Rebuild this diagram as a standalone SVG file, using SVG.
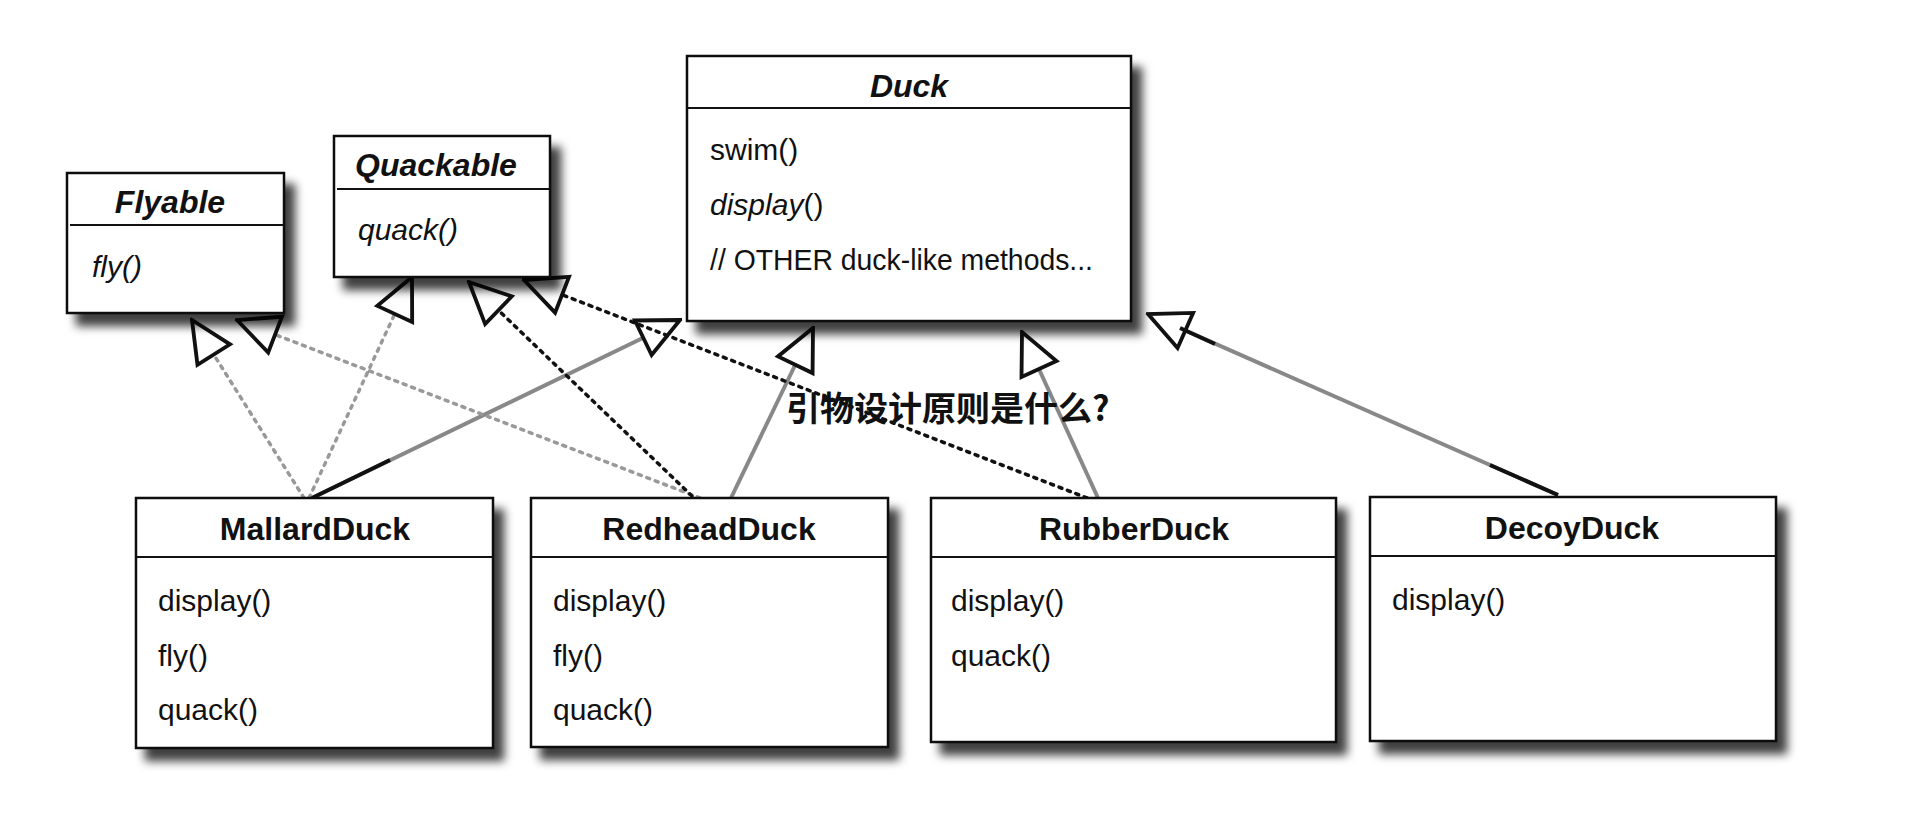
<svg xmlns="http://www.w3.org/2000/svg" width="1920" height="821" viewBox="0 0 1920 821">
<style>
.box{fill:#fff;stroke:#111;stroke-width:2.5}
.div{stroke:#111;stroke-width:2}
.t{font-family:"Liberation Sans",Arial,sans-serif;font-size:30px;fill:#111}
.b{font-weight:bold;font-size:32px}
.i{font-style:italic}
.c{text-anchor:middle}
.solid{stroke:#888;stroke-width:4;fill:none}
.gdot{stroke:#999;stroke-width:3.5;stroke-dasharray:3 6;fill:none;stroke-linecap:round}
.kdot{stroke:#111;stroke-width:3.5;stroke-dasharray:3 6;fill:none;stroke-linecap:round}
</style>
<defs>
<filter id="sh" x="-10%" y="-10%" width="130%" height="140%"><feDropShadow dx="10" dy="12" stdDeviation="5" flood-color="#000" flood-opacity="0.75"/></filter>
<marker id="tri" viewBox="0 0 40 40" refX="38" refY="20" markerWidth="48" markerHeight="48" markerUnits="userSpaceOnUse" orient="auto">
<path d="M38 20 L4 4 L4 36 Z" fill="#fff" stroke="#111" stroke-width="3.2" stroke-linejoin="miter"/>
</marker>
</defs>
<rect width="1920" height="821" fill="#fff"/>
<g id="connectors">
<path class="gdot" d="M304 498 L192 320" marker-end="url(#tri)"/>
<path class="gdot" d="M309 498 L412 277" marker-end="url(#tri)"/>
<path class="solid" d="M312 498 L680 320" marker-end="url(#tri)"/>
<path d="M312 498 L390 460" stroke="#111" stroke-width="4"/>
<path class="gdot" d="M700 498 L237 320" marker-end="url(#tri)"/>
<path class="kdot" d="M692 496 L469 282" marker-end="url(#tri)"/>
<path class="solid" d="M731 498 L813 328" marker-end="url(#tri)"/>
<path class="kdot" d="M1087 498 L524 280" marker-end="url(#tri)"/>
<path class="solid" d="M1098 498 L1022 332" marker-end="url(#tri)"/>
<path class="solid" d="M1558 495 L1148 314" marker-end="url(#tri)"/>
<path d="M1558 495 L1490 465 M1215 344 L1180 328" stroke="#111" stroke-width="4"/>
</g>
<g id="duck">
<rect class="box" x="687" y="56" width="444" height="265" filter="url(#sh)"/>
<line class="div" x1="687" y1="108" x2="1131" y2="108"/>
<text class="t b i c" x="909" y="97">Duck</text>
<text class="t" x="710" y="160">swim()</text>
<text class="t" x="710" y="215"><tspan class="i">display</tspan>()</text>
<text class="t" x="710" y="270" textLength="383" lengthAdjust="spacingAndGlyphs">// OTHER duck-like methods...</text>
</g>
<g id="flyable">
<rect class="box" x="67" y="173" width="217" height="140" filter="url(#sh)"/>
<line class="div" x1="70" y1="225" x2="284" y2="225"/>
<text class="t b i c" x="170" y="213">Flyable</text>
<text class="t i" x="92" y="277">fly()</text>
</g>
<g id="quackable">
<rect class="box" x="334" y="136" width="216" height="141" filter="url(#sh)"/>
<line class="div" x1="337" y1="189" x2="550" y2="189"/>
<text class="t b i" x="355" y="176">Quackable</text>
<text class="t i" x="358" y="240">quack()</text>
</g>
<g id="mallard">
<rect class="box" x="136" y="498" width="357" height="250" filter="url(#sh)"/>
<line class="div" x1="136" y1="557" x2="493" y2="557"/>
<text class="t b c" x="315" y="540">MallardDuck</text>
<text class="t" x="158" y="611">display()</text>
<text class="t" x="158" y="666">fly()</text>
<text class="t" x="158" y="720">quack()</text>
</g>
<g id="redhead">
<rect class="box" x="531" y="498" width="357" height="249" filter="url(#sh)"/>
<line class="div" x1="531" y1="557" x2="888" y2="557"/>
<text class="t b c" x="709" y="540">RedheadDuck</text>
<text class="t" x="553" y="611">display()</text>
<text class="t" x="553" y="666">fly()</text>
<text class="t" x="553" y="720">quack()</text>
</g>
<g id="rubber">
<rect class="box" x="931" y="498" width="405" height="244" filter="url(#sh)"/>
<line class="div" x1="931" y1="557" x2="1336" y2="557"/>
<text class="t b c" x="1134" y="540">RubberDuck</text>
<text class="t" x="951" y="611">display()</text>
<text class="t" x="951" y="666">quack()</text>
</g>
<g id="decoy">
<rect class="box" x="1370" y="497" width="406" height="244" filter="url(#sh)"/>
<line class="div" x1="1370" y1="556" x2="1776" y2="556"/>
<text class="t b c" x="1572" y="539">DecoyDuck</text>
<text class="t" x="1392" y="610">display()</text>
</g>
<text x="786" y="421" font-family="'Noto Sans CJK SC',sans-serif" font-weight="bold" font-size="34" fill="#111">引物设计原则是什么?</text>
</svg>
